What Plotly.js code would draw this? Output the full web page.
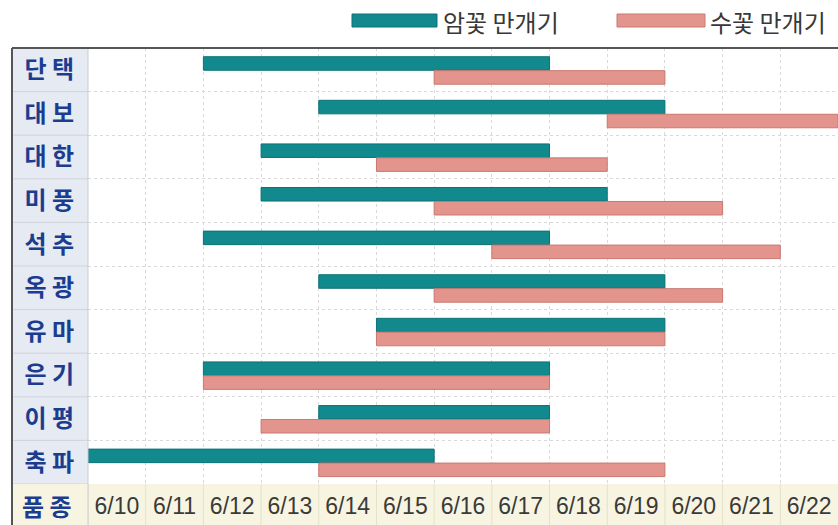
<!DOCTYPE html>
<html>
<head>
<meta charset="utf-8">
<script src="https://cdn.plot.ly/plotly-3.0.1.min.js"></script>
<style>html,body{margin:0;padding:0;background:#fff;}#chart{width:838px;height:525px;}</style>
</head>
<body>
<div id="chart"></div>
<script>
// ---- data ----
const varieties = ["단 택", "대 보", "대 한", "미 풍", "석 추", "옥 광", "유 마", "은 기", "이 평", "축 파"];
const femaleStart = [12, 14, 13, 13, 12, 14, 15, 12, 14, 10];
const femaleEnd   = [17, 19, 17, 18, 17, 19, 19, 17, 17, 15];
const maleStart   = [16, 19, 15, 16, 17, 16, 15, 12, 13, 14];
const maleEnd     = [19, 22, 18, 20, 21, 20, 19, 17, 17, 19];
const dayValues   = [10, 11, 12, 13, 14, 15, 16, 17, 18, 19, 20, 21, 22];
const dayLabels   = ["6/10", "6/11", "6/12", "6/13", "6/14", "6/15", "6/16", "6/17", "6/18", "6/19", "6/20", "6/21", "6/22"];
const seriesNames = ["암꽃 만개기", "수꽃 만개기"];
const headerLabel = "품 종";

// ---- layout helpers ----
const W = 838, H = 525, L = 88, T = 48, B = 41;
const plotW = W - L, plotH = H - T - B;
const px = v => (v - L) / plotW;          // pixel x -> paper x
const py = v => (H - B - v) / plotH;       // pixel y -> paper y

const teal = "#12898d", tealLine = "#0c7377";
const pink = "#e3958d", pinkLine = "#c9786f";
const idx = varieties.map((_, i) => i);

const traces = [
  {
    type: "bar", orientation: "h", name: seriesNames[0],
    y: idx, base: femaleStart.map(s => s - 0.5),
    x: femaleStart.map((s, i) => femaleEnd[i] - s + 1),
    offset: -0.3, width: 0.31,
    marker: {color: teal, line: {color: tealLine, width: 1}},
    showlegend: false, hoverinfo: "skip"
  },
  {
    type: "bar", orientation: "h", name: seriesNames[1],
    y: idx, base: maleStart.map(s => s - 0.5),
    x: maleStart.map((s, i) => maleEnd[i] - s + 1),
    offset: 0.02, width: 0.31,
    marker: {color: pink, line: {color: pinkLine, width: 1}},
    showlegend: false, hoverinfo: "skip"
  }
];

const shapes = [];
// left label column background
shapes.push({type: "rect", xref: "paper", yref: "paper", x0: px(12), x1: 0, y0: py(525), y1: 1,
  fillcolor: "#e6eaf2", line: {width: 0}, layer: "below"});
// bottom header row background
shapes.push({type: "rect", xref: "paper", yref: "paper", x0: px(12), x1: 1.01, y0: py(525), y1: 0,
  fillcolor: "#f7f5e1", line: {width: 0}, layer: "below"});
// row separators inside the label column
for (let k = 0; k <= varieties.length; k++) {
  shapes.push({type: "line", xref: "paper", yref: "y", x0: px(12), x1: 0, y0: k - 0.5, y1: k - 0.5,
    line: {color: "#d0d3da", width: 1}});
}
// column separators in the bottom row
dayValues.forEach(d => {
  shapes.push({type: "line", xref: "x", yref: "paper", x0: d - 0.5, x1: d - 0.5, y0: py(525), y1: 0,
    line: {color: "#e4e1c9", width: 1}});
});
// separator between label column and chart
shapes.push({type: "line", xref: "paper", yref: "paper", x0: 0, x1: 0, y0: py(525), y1: 1,
  line: {color: "#cacdd3", width: 1}});
// frame
shapes.push({type: "line", xref: "paper", yref: "paper", x0: px(12), x1: 1.01, y0: 1, y1: 1,
  line: {color: "#555", width: 2}});
shapes.push({type: "line", xref: "paper", yref: "paper", x0: px(12), x1: px(12), y0: py(525), y1: 1,
  line: {color: "#555", width: 2}});
// legend swatches
shapes.push({type: "rect", xref: "paper", yref: "paper", x0: px(352), x1: px(437), y0: py(27), y1: py(14),
  fillcolor: teal, line: {color: tealLine, width: 1}});
shapes.push({type: "rect", xref: "paper", yref: "paper", x0: px(617), x1: px(705), y0: py(27), y1: py(14),
  fillcolor: pink, line: {color: pinkLine, width: 1}});

const annotations = [
  {xref: "paper", yref: "paper", x: px(441), y: py(21), xanchor: "left", yanchor: "middle",
   text: seriesNames[0], showarrow: false,
   font: {family: "Noto Sans CJK KR", size: 24, color: "#383838"}},
  {xref: "paper", yref: "paper", x: px(708), y: py(21), xanchor: "left", yanchor: "middle",
   text: seriesNames[1], showarrow: false,
   font: {family: "Noto Sans CJK KR", size: 24, color: "#383838"}},
  {xref: "paper", yref: "paper", x: px(74), y: py(505), xanchor: "right", yanchor: "middle",
   text: headerLabel, showarrow: false,
   font: {family: "Noto Sans CJK KR", size: 24, color: "#1b3d90", weight: "bold"}}
];

const layout = {
  width: W, height: H,
  margin: {l: L, r: 0, t: T, b: B, pad: 0},
  paper_bgcolor: "#ffffff", plot_bgcolor: "rgba(0,0,0,0)",
  barmode: "overlay",
  showlegend: false,
  xaxis: {
    range: [9.5, 22.5], tickmode: "array", tickvals: dayValues, ticktext: dayLabels,
    showgrid: false, zeroline: false, showline: false, ticks: "",
    ticklabelstandoff: 6,
    tickfont: {family: "Liberation Sans, Arial", size: 23, color: "#3a3a3a"},
    minor: {tick0: 9.5, dtick: 1, showgrid: true, gridcolor: "#d9d9d9", griddash: "dot", gridwidth: 1, ticks: ""},
    fixedrange: true
  },
  yaxis: {
    range: [9.5, -0.5], tickmode: "array", tickvals: idx, ticktext: varieties,
    showgrid: false, zeroline: false, showline: false, ticks: "",
    ticklabelstandoff: 13,
    tickfont: {family: "Noto Sans CJK KR", size: 24, color: "#1b3d90", weight: "bold"},
    minor: {tick0: 0.5, dtick: 1, showgrid: true, gridcolor: "#d9d9d9", griddash: "dot", gridwidth: 1, ticks: ""},
    fixedrange: true
  },
  shapes: shapes,
  annotations: annotations
};

Plotly.newPlot("chart", traces, layout, {displayModeBar: false, staticPlot: true});
</script>
</body>
</html>
